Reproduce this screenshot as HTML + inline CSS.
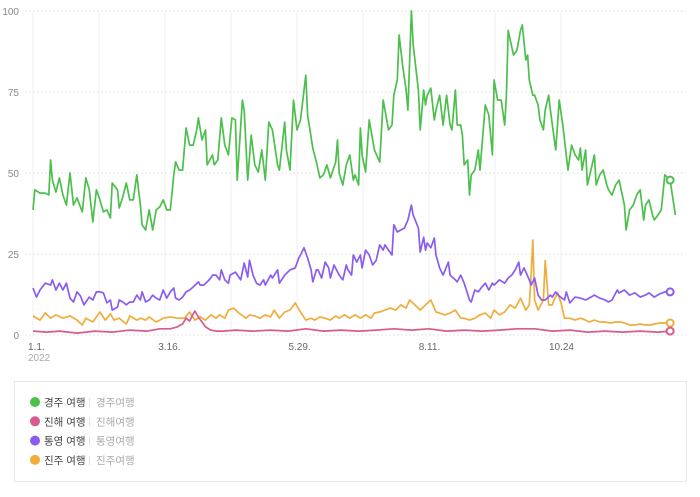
<!DOCTYPE html>
<html><head><meta charset="utf-8"><style>
html,body{margin:0;padding:0;background:#fff;}
body{width:700px;height:492px;overflow:hidden;font-family:"Liberation Sans","Noto Sans CJK KR",sans-serif;}
</style></head><body>
<svg id="chart" width="700" height="492" xmlns="http://www.w3.org/2000/svg"></svg>
<script>
const yTicks=[0,25,50,75,100];
const yTickLabels=["0","25","50","75","100"];
const xTickDays=[0,74,148,222,296];
const xTickLabels=["1.1.","3.16.","5.29.","8.11.","10.24"];
const seriesNames=["경주 여행","진해 여행","통영 여행","진주 여행"];
const seriesKeywords=["경주여행","진해여행","통영여행","진주여행"];
const greenDays=[0,1,4,7,9,10,11,13,15,17,19,21,23,25,28,30,32,34,36,38,40,42,44,45,48,49,51,53,55,57,59,61,62,64,66,68,70,72,74,76,78,80,81,83,85,87,89,91,93,94,96,98,99,102,103,105,107,109,111,113,115,116,119,120,122,124,126,128,130,132,134,136,139,140,143,144,146,148,150,152,155,156,159,161,163,165,167,169,172,173,174,176,178,180,182,183,185,186,187,189,191,193,194,197,199,200,202,204,205,207,208,210,212,213,215,216,219,220,222,223,224,226,228,229,231,233,235,237,238,240,241,243,244,245,247,248,249,251,253,254,257,259,261,262,264,266,268,269,270,273,275,277,278,280,281,282,284,285,287,288,290,291,293,294,297,298,299,301,302,304,306,308,310,311,312,314,315,317,319,320,322,324,326,327,329,331,333,336,337,339,341,343,345,347,348,350,352,353,355,357,359,362,365];
const greenVals=[38.6,44.8,43.8,43.8,43.2,54,47.8,44.1,48.5,43.2,40.1,50,40.1,42.3,38,48.5,44.8,34.9,44.8,41.7,38,38.6,36.1,46.9,44.8,39.2,42.6,46.9,41.7,41.7,49.4,40.1,34,32.4,38.6,32.4,38.6,39.5,41.7,38.6,38.6,49.4,53.4,50.9,50.9,63.9,58.6,58.6,63.3,67,60.2,63.3,52.5,55.6,52.5,54,67,58.6,55.6,67,66.4,47.8,72.5,69.4,47.8,61.7,52.5,50.3,57.1,47.8,65.7,63.3,52.5,50.9,65.7,57.1,50.9,72.5,63.3,66.4,80.2,67.9,57.7,53.4,48.5,49.4,52.5,48.5,53.4,60.2,50,46.3,52.5,55.6,47.8,49.4,46.3,63.9,55.6,50.3,66.4,60.2,57.1,53.4,72.5,69.4,63.3,64.8,74,78.7,92.6,83.3,75.6,69.4,100,89.5,75.6,63.3,75.6,71,74,76.2,66.4,69.4,74,64.8,74,64.8,63.3,75.6,64.8,64.8,61.7,52.5,54,43.2,49.4,50.9,57.1,50.9,71,67.9,55.6,78.7,72.5,72.5,64.8,74,94,86.4,88,94,95.7,84.9,86.4,78.7,74,74,71,66.4,63.3,69.4,74,69.4,57.1,64.8,72.5,64.8,60.2,50.9,58.6,55.6,54,57.7,50.9,57.1,46.3,50.9,55.6,46.3,49.4,50.9,46.3,44.8,43.2,46.3,47.8,40.1,32.4,38.6,40.1,43.2,44.8,35.5,40.1,41.7,37,35.5,37,38.6,49.4,47.8,37];
const pinkDays=[0,8,15,25,35,45,55,65,72,78,82,85,87,89,91,92,94,96,98,101,104,108,115,125,135,145,155,165,175,185,195,205,215,225,235,245,255,265,275,285,295,305,315,325,335,345,355,362];
const pinkVals=[1.2,0.9,1.2,0.6,1.2,0.9,1.5,1.2,1.9,1.9,2.5,3.4,5.2,4.3,6.5,7.4,5.5,4,2.5,1.5,1.2,1.2,1.5,1.2,1.5,1.2,1.9,1.2,1.5,1.2,1.5,1.9,1.5,1.9,1.2,1.5,1.2,1.5,1.9,1.9,1.2,1.5,0.9,1.2,0.9,1.2,0.9,1.2];
const purpleDays=[0,2,4,7,10,11,13,15,17,19,21,23,25,27,29,30,32,34,36,38,40,42,44,45,48,49,51,53,55,57,59,61,62,64,66,68,70,72,74,76,78,80,81,83,85,87,89,91,94,95,97,99,101,102,104,106,107,109,111,112,115,118,120,122,123,125,127,129,131,132,135,136,139,140,143,146,149,151,152,154,156,158,159,161,162,164,166,168,169,171,174,176,178,179,181,182,184,186,187,189,191,193,195,197,199,200,202,204,205,207,209,211,213,215,216,219,220,222,223,224,226,228,229,231,233,236,237,240,241,243,245,248,249,251,253,255,257,259,261,262,265,268,270,272,274,276,277,279,282,283,285,287,289,291,294,295,297,299,302,303,305,308,311,314,316,319,322,325,327,329,332,333,336,339,342,345,348,350,353,356,359,362];
const purpleVals=[14.5,11.7,13.9,16,15.4,17,13.9,16,13.9,16,11.4,10.2,13.3,12,9.3,10.2,11.7,10.8,13.3,13.3,13,9.9,10.8,7.7,8.6,10.8,10.2,9.3,10.2,10.2,12.3,10.8,13.3,10.2,10.8,12.3,11.4,10.8,13.9,11.4,13.3,14.5,11.4,10.8,11.7,13.3,13.9,14.8,16.4,15.4,15.4,16.4,17.6,18.5,18.5,17,20.1,17,16,18.5,19.4,17,22.2,17.9,23.1,18.5,16,15.4,17,15.4,18.5,17.6,20.1,16,18.5,20.1,20.7,23.8,24.7,26.9,23.8,20.1,16.4,20.1,20.1,17.6,22.5,20.7,17.6,21.6,18.5,17,21.6,20.1,18.5,24.7,22.5,24.7,20.7,26.2,24.7,21.6,23.1,27.8,26.2,27.8,26.2,24.7,34,31.8,32.4,33,35.5,40.1,37,33,25.6,30.2,26.2,28.4,26.9,29.9,24.7,20.7,18.5,22.5,18.5,17,16.4,18.5,16,10.8,10.2,13.9,13.3,14.8,16,13.9,16,15.4,17,16,17.6,18.5,20.1,22.5,18.5,20.7,17,15.4,17.6,12.3,10.8,10.8,12.3,11.7,13.3,12,10.8,13.3,9.9,11.7,11.4,10.8,11.4,12.3,11.4,10.8,10.2,10.8,13.9,13,13.9,12.3,13,11.7,12.3,13,11.7,12.7,13.3,13.3];
const orangeDays=[0,4,7,10,13,17,21,25,28,30,34,38,41,44,46,49,53,55,59,61,64,66,70,74,78,82,86,89,92,95,98,101,104,106,109,111,114,117,121,123,126,129,132,135,137,140,143,146,149,152,155,158,160,163,166,169,172,174,177,180,183,186,189,192,194,197,200,203,206,209,212,214,217,220,223,226,229,231,234,237,240,243,245,248,251,254,257,260,262,265,268,271,274,277,280,282,283,284,285,287,290,291,293,295,296,298,300,302,305,308,311,314,316,319,322,325,328,331,334,336,339,342,345,348,351,353,356,359,362];
const orangeVals=[5.9,4.6,6.8,5.2,6.2,5.2,5.9,4.6,3.1,5.2,4,7.1,4.6,6.5,4.6,5.2,3.4,5.9,4.6,5.2,4.6,5.6,4,5.2,5.6,5.2,5.2,7.1,4.6,5.6,4.6,6.2,5.2,6.2,5.2,7.7,8.3,6.8,5.2,6.2,5.9,5.2,6.2,5.6,7.7,5.2,7.1,7.7,9.9,7.1,4.6,5.2,4.6,5.6,5.2,4.6,5.9,5.2,6.2,5.2,6.2,5.2,6.2,5.2,6.8,7.1,7.7,8.3,7.7,9.3,8.3,10.8,9.3,7.7,9.3,10.8,7.1,6.8,6.2,6.8,7.7,5.2,5.2,4.6,5.2,6.2,6.8,5.2,7.7,6.2,7.1,9.3,8.3,11.4,7.7,9.3,18.5,29.3,10.8,7.7,10.8,23,9.3,9.3,10.8,13,10,5.2,5.2,4.6,5.2,4.6,4,4.6,4,4,3.7,4,4,3.7,3.1,3.1,3.4,3.1,3.1,3.4,3.7,3.7,3.7];

const colors=["#4cbf4c","#d95a8e","#8a5cf0","#f0ad3c"];
const svg=document.getElementById('chart');
const NS="http://www.w3.org/2000/svg";
const x0=33,x1=675.4,y0=335,y1=11;
function xScale(d){return x0+(x1-x0)*d/365;}
function yScale(v){return y0-(y0-y1)*v/100;}
function mk(tag,attrs,parent){const e=document.createElementNS(NS,tag);for(const k in attrs)e.setAttribute(k,attrs[k]);(parent||svg).appendChild(e);return e;}

const grid=mk('g',{});


for(let d=0;d<=330;d+=37.5){
  const l=mk('line',{x1:xScale(d),x2:xScale(d),y1:y1,y2:y0,stroke:'#f0f0f0','stroke-width':1},grid);
  
  
}
yTicks.forEach((t,i)=>{
  const l=mk('line',{x1:25,x2:686,y1:yScale(t),y2:yScale(t),stroke:'#e6e6e6','stroke-dasharray':'2,2'},grid);
  
  
  const tx=mk('text',{x:19,y:yScale(t)+4,'text-anchor':'end','font-size':10,fill:'#888'});
  tx.textContent=yTickLabels[i];
  
  
});
xTickDays.forEach((d,i)=>{
  const tx=mk('text',{x:xScale(d)-5,y:350,'font-size':10,fill:'#666'});
  tx.textContent=xTickLabels[i];
  
  
});
const yr=mk('text',{x:28,y:361,'font-size':10,fill:'#aaa'});
yr.textContent="2022";



const allDays=[greenDays,pinkDays,purpleDays,orangeDays];
const allVals=[greenVals,pinkVals,purpleVals,orangeVals];
const names=['series-gyeongju','series-jinhae','series-tongyeong','series-jinju'];
[3,1,2,0].forEach(s=>{
  const ds=allDays[s],vs=allVals[s];
  const pts=ds.map((d,i)=>xScale(d).toFixed(1)+','+yScale(vs[i]).toFixed(1)).join(' ');
  const pl=mk('polyline',{points:pts,fill:'none',stroke:colors[s],'stroke-width':1.7,'stroke-linejoin':'round'});
  
  
  const li=s===0?ds.length-2:ds.length-1;
  const c=mk('circle',{cx:xScale(ds[li]),cy:yScale(vs[li]),r:3.5,fill:'#fff',stroke:colors[s],'stroke-width':2});
  
  
});

const lg=mk('g',{});


const box=mk('rect',{x:14.5,y:381.5,width:672,height:100,fill:'#fff',stroke:'#e8e8e8'},lg);


seriesNames.forEach((n,i)=>{
  const y=402+i*19.3;
  const g=mk('g',{},lg);
  
  
  mk('circle',{cx:35,cy:y,r:5,fill:colors[i]},g);
  const t=mk('text',{x:44,y:y+4,'font-size':10.5,fill:'#444'},g);
  t.textContent=n;
  mk('line',{x1:89.5,x2:89.5,y1:y-4,y2:y+5,stroke:'#e2e2e2'},g);
  const t2=mk('text',{x:96,y:y+4,'font-size':10.5,fill:'#aaa'},g);
  t2.textContent=seriesKeywords[i];
});
</script>
</body></html>
